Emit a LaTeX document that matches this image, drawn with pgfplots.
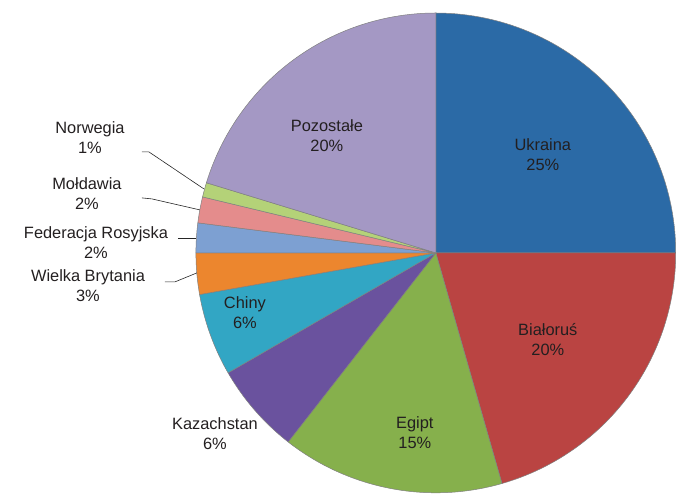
\documentclass[border=0pt]{standalone}
\usepackage{pgfplots}
\pgfplotsset{compat=1.18}
\usepackage{fontspec}
\setmainfont{Liberation Sans}
\definecolor{cUkr}{RGB}{43,106,166}
\definecolor{cBia}{RGB}{186,68,66}
\definecolor{cEgi}{RGB}{134,176,76}
\definecolor{cKaz}{RGB}{106,82,158}
\definecolor{cChi}{RGB}{50,166,196}
\definecolor{cWB}{RGB}{236,134,46}
\definecolor{cFR}{RGB}{125,160,210}
\definecolor{cMol}{RGB}{228,140,140}
\definecolor{cNor}{RGB}{180,210,120}
\definecolor{cPoz}{RGB}{164,152,196}
\definecolor{txt}{RGB}{35,31,32}
\tikzset{lbl/.style={font=\fontsize{16.4bp}{20bp}\selectfont, text=txt, align=center, inner sep=0pt}}
% slice: start angle, end angle (degrees, math convention), colour
% shares (%): Ukraina 25, Bialorus 20.6, Egipt 15, Kazachstan 6.1, Chiny 5.6,
% Wielka Brytania 2.8, Federacja Rosyjska 2, Moldawia 1.75, Norwegia 0.97, Pozostale 20.3
\newcommand\slice[3]{%
  \addplot[fill=#3, draw=black!50, line width=0.5pt, domain=#1:#2, samples=60, variable=\t]
    ({436+240*cos(\t)},{241+240*sin(\t)}) -- (axis cs:436,241) -- cycle;
}
\begin{document}
\begin{tikzpicture}
\begin{axis}[
  x=1bp, y=1bp, xmin=0, xmax=676, ymin=0, ymax=494,
  hide axis, clip=false,
]
\path (axis cs:0,0) rectangle (axis cs:676,494);
\slice{0}{90}{cUkr}
\slice{-74}{0}{cBia}
\slice{-128}{-74}{cEgi}
\slice{-150}{-128}{cKaz}
\slice{-170}{-150}{cChi}
\slice{-180}{-170}{cWB}
\slice{-187.2}{-180}{cFR}
\slice{-193.5}{-187.2}{cMol}
\slice{-197}{-193.5}{cNor}
\slice{-270}{-197}{cPoz}
% labels
\node[lbl] at (axis cs:543,339) {Ukraina\\25\%};
\node[lbl] at (axis cs:548,154) {Białoruś\\20\%};
\node[lbl] at (axis cs:415,61) {Egipt\\15\%};
\node[lbl] at (axis cs:215,60) {Kazachstan\\6\%};
\node[lbl] at (axis cs:245,181) {Chiny\\6\%};
\node[lbl] at (axis cs:88,208) {Wielka Brytania\\3\%};
\node[lbl] at (axis cs:96,251) {Federacja Rosyjska\\2\%};
\node[lbl] at (axis cs:87,300) {Mołdawia\\2\%};
\node[lbl] at (axis cs:90,356) {Norwegia\\1\%};
\node[lbl] at (axis cs:327,358) {Pozostałe\\20\%};
% leader lines
\draw[black!85, line width=0.6pt] (axis cs:142,342) -- (axis cs:149,342) -- (axis cs:204,305);
\draw[black!85, line width=0.6pt] (axis cs:142,296) -- (axis cs:152,295) -- (axis cs:200,284);
\draw[black!85, line width=0.6pt] (axis cs:178,256) -- (axis cs:196,256);
\draw[black!85, line width=0.6pt] (axis cs:165,212) -- (axis cs:175,212) -- (axis cs:197,221);
\end{axis}
\end{tikzpicture}
\end{document}
